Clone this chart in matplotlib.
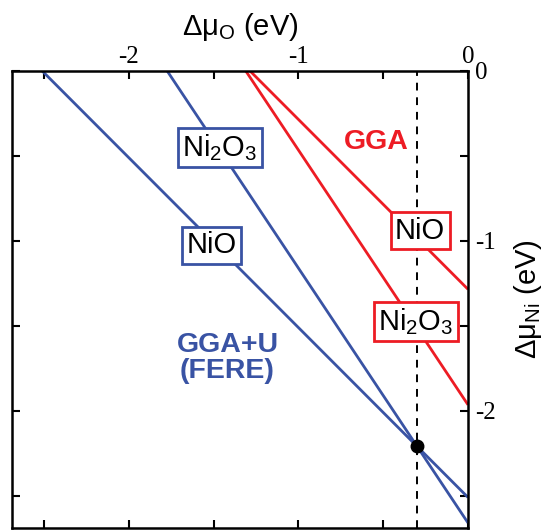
"""Chemical potential stability lines for NiO and Ni2O3 (GGA vs GGA+U/FERE)."""

import matplotlib

matplotlib.use("Agg")
import matplotlib.pyplot as plt
from matplotlib.ticker import FixedLocator, FuncFormatter

plt.rcParams["font.family"] = ["Liberation Sans", "DejaVu Sans"]
plt.rcParams["mathtext.fontset"] = "custom"
plt.rcParams["mathtext.rm"] = "Liberation Sans"
plt.rcParams["mathtext.it"] = "Liberation Sans:italic"
plt.rcParams["mathtext.default"] = "regular"
plt.rcParams["axes.unicode_minus"] = False

BLUE = "#3953a4"
RED = "#ed1c24"

# formation enthalpies (eV per formula unit)
compounds = ["NiO", "Ni2O3"]
n_ni = [1, 2]
n_o = [1, 3]
dh_gga = [-1.285, -3.93]
dh_fere = [-2.51, -5.32]

# pinned point (both oxides coexist in GGA+U)
pin_mu_o = -0.30
pin_mu_ni = -2.21

lim = -2.69
tick_vals = [-2.5, -2.0, -1.5, -1.0, -0.5, 0.0]


def _label(v, _pos):
    if abs(v - round(v)) < 1e-6:
        return "%d" % round(v)
    return ""


fig = plt.figure(figsize=(5.47, 5.30), dpi=100)
ax = fig.add_axes([0.0214, 0.0038, 0.8342, 0.8623])

for dh_list, col in [(dh_gga, RED), (dh_fere, BLUE)]:
    for i, dh in enumerate(dh_list):
        # line runs from the Δμ_Ni = 0 intercept to the Δμ_O = 0 intercept
        ax.plot([dh / n_o[i], 0.0], [0.0, dh / n_ni[i]], color=col, lw=2.0,
                solid_capstyle="butt", clip_on=True, zorder=2)

ax.axvline(pin_mu_o, color="black", lw=1.4, ls=(0, (4, 3.5)), zorder=1)
ax.plot([pin_mu_o], [pin_mu_ni], "o", color="black", ms=9, zorder=4)

ax.set_xlim(lim, 0)
ax.set_ylim(lim, 0)

for sp in ax.spines.values():
    sp.set_linewidth(1.8)

ax.xaxis.set_major_locator(FixedLocator(tick_vals))
ax.yaxis.set_major_locator(FixedLocator(tick_vals))
ax.xaxis.set_major_formatter(FuncFormatter(_label))
ax.yaxis.set_major_formatter(FuncFormatter(_label))
ax.tick_params(which="both", direction="in", length=5.5, width=1.5,
               top=True, bottom=True, left=True, right=True,
               labeltop=True, labelbottom=False, labelleft=False,
               labelright=True, labelsize=18,
               labelfontfamily="Liberation Serif")
ax.tick_params(axis="x", pad=2)
ax.tick_params(axis="y", pad=5)

ax.xaxis.set_label_position("top")
ax.yaxis.set_label_position("right")
ax.set_xlabel("Δμ$_O$ (eV)", fontsize=21, labelpad=8)
ax.set_ylabel("Δμ$_{Ni}$ (eV)", fontsize=21, labelpad=12)

box_kw = dict(boxstyle="square,pad=0.15", fc="white", lw=2.0)
ax.text(-1.462, -0.45, "Ni$_2$O$_3$", fontsize=21, ha="center", va="center",
        bbox=dict(ec=BLUE, **box_kw), zorder=5)
ax.text(-1.512, -1.026, "NiO", fontsize=21, ha="center", va="center",
        bbox=dict(ec=BLUE, **box_kw), zorder=5)
ax.text(-0.282, -0.941, "NiO", fontsize=21, ha="center", va="center",
        bbox=dict(ec=RED, **box_kw), zorder=5)
ax.text(-0.309, -1.474, "Ni$_2$O$_3$", fontsize=21, ha="center", va="center",
        bbox=dict(ec=RED, **box_kw), zorder=5)
ax.text(-0.541, -0.418, "GGA", fontsize=20.5, fontweight="bold", color=RED,
        ha="center", va="center")
ax.text(-1.418, -1.69, "GGA+U\n(FERE)", fontsize=20.5, fontweight="bold",
        color=BLUE, ha="center", va="center", linespacing=1.0)

fig.savefig("out.png", dpi=100)
